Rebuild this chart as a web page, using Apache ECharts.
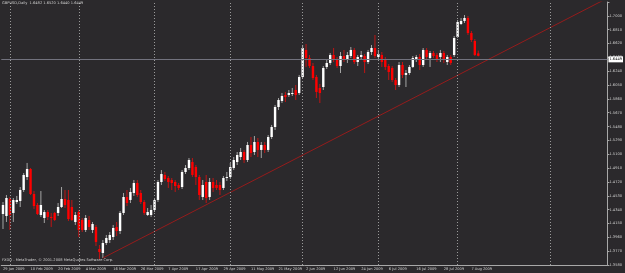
<!DOCTYPE html>
<html>
<head>
<meta charset="utf-8">
<title>GBPUSD Daily</title>
<script src="https://cdn.jsdelivr.net/npm/echarts@6/dist/echarts.min.js"></script>
<style>
  html, body { margin: 0; padding: 0; background: #2b292c; }
  #chart { width: 625px; height: 273px; }
</style>
</head>
<body>
<div id="chart"></div>
<script>
// GBPUSD daily bars, 29 Jan 2009 .. 11 Aug 2009
var futureBars = 37; // empty room on the right (chart shift)
var opens = [
  1.4272,1.4244,1.4478,1.4286,1.4437,1.4451,1.4602,1.4781,1.4891,1.4547,
  1.4396,1.4258,1.4217,1.4299,1.4231,1.4286,1.4286,1.4368,1.4478,1.4465,
  1.4368,1.4162,1.4299,1.4189,1.4052,1.4189,1.4052,1.4093,1.3790,1.3735,
  1.3873,1.3914,1.3955,1.4093,1.4038,1.4286,1.4506,1.4465,1.4561,1.4698,
  1.4561,1.4437,1.4258,1.4258,1.4327,1.4465,1.4712,1.4809,1.4767,1.4740,
  1.4712,1.4671,1.4643,1.4850,1.4905,1.4987,1.4919,1.4781,1.4506,1.4712,
  1.4506,1.4712,1.4671,1.4671,1.4630,1.4767,1.4781,1.4905,1.4987,1.5056,
  1.5125,1.5015,1.5221,1.5125,1.5263,1.5153,1.5221,1.5153,1.5331,1.5469,
  1.5744,1.5827,1.5909,1.5909,1.5923,1.5978,1.5937,1.6157,1.6529,1.6418,
  1.6308,1.6157,1.6006,1.6019,1.6295,1.6350,1.6460,1.6391,1.6308,1.6446,
  1.6391,1.6446,1.6529,1.6363,1.6432,1.6446,1.6363,1.6501,1.6556,1.6432,
  1.6460,1.6391,1.6308,1.6281,1.6116,1.6047,1.6322,1.6185,1.6212,1.6295,
  1.6405,1.6432,1.6322,1.6529,1.6418,1.6487,1.6460,1.6432,1.6487,1.6363,
  1.6432,1.6460,1.6707,1.6886,1.6928,1.6969,1.6762,1.6652,1.6482
];
var highs = [
  1.4437,1.4533,1.4506,1.4492,1.4520,1.4643,1.4836,1.4974,1.4905,1.4588,
  1.4423,1.4588,1.4327,1.4327,1.4286,1.4299,1.4423,1.4643,1.4602,1.4602,
  1.4465,1.4299,1.4327,1.4217,1.4258,1.4244,1.4162,1.4121,1.3845,1.3914,
  1.3983,1.4024,1.4121,1.4162,1.4313,1.4561,1.4602,1.4630,1.4740,1.4740,
  1.4602,1.4465,1.4354,1.4396,1.4492,1.4740,1.4877,1.4850,1.4795,1.4767,
  1.4740,1.4698,1.4877,1.4946,1.5042,1.5042,1.4946,1.4809,1.4740,1.4809,
  1.4767,1.4767,1.4740,1.4712,1.4795,1.4850,1.4974,1.5056,1.5125,1.5180,
  1.5153,1.5263,1.5331,1.5345,1.5318,1.5263,1.5263,1.5359,1.5497,1.5772,
  1.5868,1.5937,1.5951,1.5978,1.6006,1.6047,1.6185,1.6597,1.6611,1.6460,
  1.6350,1.6185,1.6061,1.6308,1.6391,1.6487,1.6556,1.6432,1.6501,1.6529,
  1.6501,1.6570,1.6556,1.6460,1.6515,1.6473,1.6529,1.6597,1.6735,1.6529,
  1.6501,1.6432,1.6336,1.6308,1.6143,1.6363,1.6363,1.6253,1.6322,1.6446,
  1.6460,1.6473,1.6556,1.6556,1.6515,1.6515,1.6487,1.6529,1.6515,1.6460,
  1.6460,1.6721,1.6941,1.6969,1.7010,1.6996,1.6790,1.6680,1.6520
];
var lows = [
  1.4065,1.4162,1.4052,1.4162,1.4409,1.4368,1.4575,1.4740,1.4533,1.4341,
  1.4258,1.4231,1.4148,1.4189,1.4093,1.4176,1.4244,1.4354,1.4354,1.4176,
  1.4176,1.4121,1.3955,1.4024,1.4024,1.4052,1.4010,1.3832,1.3653,1.3666,
  1.3845,1.3873,1.3914,1.3969,1.3997,1.4258,1.4382,1.4423,1.4520,1.4506,
  1.4409,1.4258,1.4244,1.4231,1.4299,1.4437,1.4671,1.4726,1.4630,1.4602,
  1.4575,1.4602,1.4616,1.4822,1.4877,1.4781,1.4671,1.4465,1.4465,1.4423,
  1.4465,1.4575,1.4602,1.4533,1.4602,1.4726,1.4753,1.4877,1.4946,1.5015,
  1.4974,1.4987,1.5056,1.5084,1.5056,1.5042,1.5111,1.5125,1.5304,1.5428,
  1.5703,1.5799,1.5813,1.5882,1.5896,1.5841,1.5909,1.6143,1.6295,1.6281,
  1.6116,1.5868,1.5799,1.5978,1.6267,1.6322,1.6363,1.6281,1.6212,1.6363,
  1.6350,1.6418,1.6336,1.6308,1.6391,1.6212,1.6336,1.6460,1.6418,1.6391,
  1.6295,1.6253,1.6116,1.6088,1.5978,1.6019,1.6143,1.6019,1.6185,1.6281,
  1.6363,1.6253,1.6295,1.6391,1.6295,1.6418,1.6363,1.6363,1.6350,1.6322,
  1.6322,1.6432,1.6694,1.6873,1.6900,1.6735,1.6639,1.6446,1.6440
];
var closes = [
  1.4396,1.4492,1.4258,1.4465,1.4465,1.4602,1.4809,1.4891,1.4547,1.4382,
  1.4272,1.4396,1.4299,1.4231,1.4217,1.4189,1.4368,1.4478,1.4396,1.4203,
  1.4189,1.4258,1.4052,1.4052,1.4217,1.4093,1.4134,1.3887,1.3749,1.3873,
  1.3942,1.3983,1.4079,1.4038,1.4286,1.4506,1.4423,1.4575,1.4698,1.4533,
  1.4437,1.4286,1.4299,1.4327,1.4465,1.4712,1.4822,1.4753,1.4712,1.4698,
  1.4657,1.4630,1.4850,1.4905,1.5015,1.4809,1.4781,1.4533,1.4671,1.4492,
  1.4712,1.4630,1.4630,1.4602,1.4767,1.4781,1.4919,1.5015,1.5084,1.5125,
  1.5015,1.5221,1.5111,1.5263,1.5153,1.5221,1.5153,1.5331,1.5469,1.5744,
  1.5841,1.5896,1.5882,1.5937,1.5937,1.5909,1.6157,1.6556,1.6418,1.6308,
  1.6143,1.5951,1.5937,1.6281,1.6350,1.6460,1.6391,1.6308,1.6446,1.6391,
  1.6460,1.6529,1.6363,1.6432,1.6460,1.6363,1.6501,1.6556,1.6446,1.6473,
  1.6363,1.6295,1.6226,1.6116,1.6047,1.6322,1.6185,1.6212,1.6295,1.6418,
  1.6432,1.6322,1.6529,1.6432,1.6487,1.6446,1.6391,1.6487,1.6391,1.6432,
  1.6350,1.6694,1.6914,1.6928,1.6969,1.6762,1.6666,1.6460,1.6449
];
// right price scale labels, bottom to top
var priceTicks = ['1.3580','1.3770','1.3960','1.4150','1.4340','1.4530','1.4720','1.4910','1.5100','1.5290',
                  '1.5480','1.5670','1.5860','1.6050','1.6240','1.6430','1.6620','1.6810','1.7000'];
var gridBars = [2, 22, 44, 66, 87, 109, 132, 159]; // dotted separators
var lastPrice = 1.6449;
var trendLine = [[29, 1.3666], [175, 1.7230]];

var months = ['Jan','Feb','Mar','Apr','May','Jun','Jul','Aug','Sep','Oct','Nov','Dec'];
var dates = [];
var d = new Date(Date.UTC(2009, 0, 29));
while (dates.length < opens.length + futureBars) {
  var wd = d.getUTCDay();
  if (wd !== 0 && wd !== 6) {
    dates.push(d.getUTCDate() + ' ' + months[d.getUTCMonth()] + ' ' + d.getUTCFullYear());
  }
  d.setUTCDate(d.getUTCDate() + 1);
}

var bars = opens.map(function (o, i) {
  return [i, o, closes[i], lows[i], highs[i]];
});

function drawCandle(params, api) {
  var i = api.value(0);
  var pO = api.coord([i, api.value(1)]);
  var pC = api.coord([i, api.value(2)]);
  var pL = api.coord([i, api.value(3)]);
  var pH = api.coord([i, api.value(4)]);
  var up = api.value(2) >= api.value(1);
  var w = 2.4;
  var top = Math.min(pO[1], pC[1]);
  var h = Math.max(Math.abs(pO[1] - pC[1]), 1);
  return {
    type: 'group',
    children: [
      {type: 'line', shape: {x1: pH[0], y1: pH[1], x2: pL[0], y2: pL[1]},
       style: {stroke: up ? '#a4a4a4' : '#c01414', lineWidth: 1}},
      {type: 'rect', shape: {x: pO[0] - w / 2, y: top, width: w, height: h},
       style: {fill: up ? '#ffffff' : '#ff0000'}}
    ]
  };
}

var txt = {fontFamily: 'DejaVu Sans', fontSize: 3.6, color: '#cfcfcf'};
var showLabel = function (i) { return i % 8 === 0 && i < opens.length; };

var chart = echarts.init(document.getElementById('chart'));
chart.setOption({
  animation: false,
  backgroundColor: '#2b292c',
  title: [
    {text: 'GBPUSD,Daily  1.6482 1.6520 1.6440 1.6449', left: 2, top: 1, padding: 0,
     textStyle: Object.assign({fontWeight: 'normal'}, txt)},
    {text: 'FXDD - MetaTrader, © 2001-2008 MetaQuotes Software Corp.', left: 2, top: 258, padding: 0,
     textStyle: Object.assign({fontWeight: 'normal'}, txt)}
  ],
  grid: {left: 0, right: 16, top: 2, bottom: 8},
  xAxis: {
    type: 'category',
    data: dates,
    boundaryGap: true,
    axisLine: {lineStyle: {color: '#a8a8a8'}},
    axisTick: {alignWithLabel: true, interval: showLabel, length: 2, lineStyle: {color: '#a8a8a8'}},
    axisLabel: Object.assign({interval: showLabel, align: 'left', margin: 2}, txt),
    splitLine: {show: false}
  },
  yAxis: [
    {type: 'value', position: 'right', min: 1.3570, max: 1.7189, scale: true,
     axisLine: {show: true, lineStyle: {color: '#a8a8a8'}},
     axisTick: {show: false}, axisLabel: {show: false}, splitLine: {show: false}},
    {type: 'value', position: 'right', min: 0, max: 19, interval: 1,
     axisLine: {show: false},
     axisTick: {show: true, length: 2, lineStyle: {color: '#a8a8a8'}},
     axisLabel: Object.assign({margin: 2, formatter: function (v) { return priceTicks[v] || ''; }}, txt),
     splitLine: {show: false}}
  ],
  series: [
    {
      type: 'custom',
      renderItem: drawCandle,
      data: bars,
      encode: {x: 0, y: [1, 2, 3, 4]},
      clip: true,
      z: 3
    },
    {
      type: 'line',
      data: trendLine,
      symbol: 'none',
      clip: true,
      lineStyle: {color: '#951c1c', width: 1},
      silent: true,
      z: 4,
      markLine: {
        silent: true,
        symbol: 'none',
        animation: false,
        data: gridBars.map(function (i) {
          return {xAxis: dates[i], lineStyle: {type: [1, 2], color: '#9a9a9a', width: 1}, label: {show: false}};
        }).concat([{
          yAxis: lastPrice,
          lineStyle: {type: 'solid', color: '#72727e', width: 1},
          label: {show: true, position: 'end', distance: 1, formatter: '1.6449',
                  backgroundColor: '#ffffff', color: '#000000', padding: [1, 1],
                  fontFamily: 'DejaVu Sans', fontSize: 3.6}
        }])
      }
    }
  ]
});
</script>
</body>
</html>
